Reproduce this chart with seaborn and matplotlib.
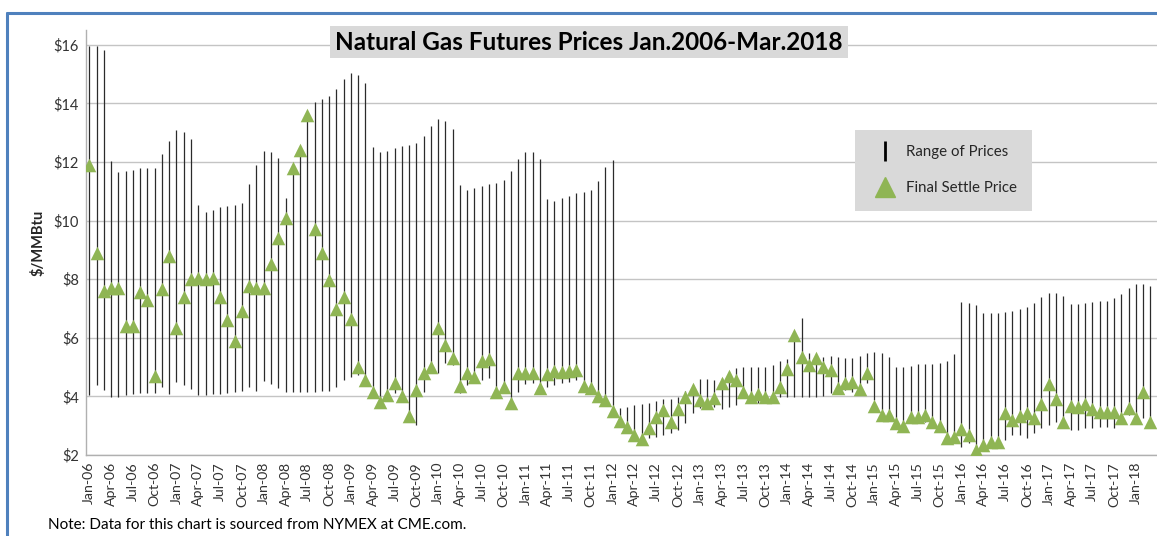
import numpy as np
import pandas as pd
import matplotlib
matplotlib.use('Agg')
import matplotlib.pyplot as plt
from matplotlib.lines import Line2D
import seaborn as sns

# Meses Jan-2006 .. Mar-2018
meses = pd.date_range('2006-01-01', '2018-03-01', freq='MS')

# Precio final de liquidacion (triangulos)
settle = [11.9, 8.9, 7.6, 7.7, 7.7, 6.4, 6.4, 7.55, 7.3, 4.7, 7.65, 8.8,
          6.35, 7.4, 8.0, 8.05, 8.0, 8.05, 7.4, 6.6, 5.9, 6.9, 7.75, 7.7,
          7.7, 8.5, 9.4, 10.1, 11.8, 12.4, 13.6, 9.7, 8.88, 7.97, 6.97, 7.4,
          6.63, 4.99, 4.56, 4.14, 3.82, 4.05, 4.45, 4.01, 3.34, 4.22, 4.79, 4.99,
          6.32, 5.75, 5.3, 4.35, 4.79, 4.67, 5.21, 5.27, 4.14, 4.33, 3.79, 4.79,
          4.79, 4.81, 4.28, 4.76, 4.88, 4.84, 4.88, 4.9, 4.35, 4.28, 4.01, 3.88,
          3.51, 3.17, 2.94, 2.68, 2.53, 2.93, 3.31, 3.54, 3.14, 3.56, 3.99, 4.24,
          3.88, 3.76, 3.96, 4.47, 4.7, 4.56, 4.16, 3.99, 4.07, 3.99, 3.99, 4.33,
          4.92, 6.1, 5.36, 5.07, 5.3, 5.01, 4.9, 4.3, 4.47, 4.5, 4.24, 4.79,
          3.67, 3.37, 3.37, 3.08, 2.99, 3.28, 3.28, 3.37, 3.14, 2.99, 2.57, 2.63,
          2.9, 2.68, 2.17, 2.34, 2.43, 2.43, 3.42, 3.19, 3.33, 3.44, 3.27, 3.74,
          4.41, 3.9, 3.14, 3.67, 3.65, 3.74, 3.57, 3.48, 3.48, 3.48, 3.25, 3.59,
          3.27, 4.16, 3.14]

# Rango de precios (maximo / minimo)
high = [15.94, 15.96, 15.82, 12.03, 11.67, 11.7, 11.73, 11.78, 11.78, 11.78, 12.27, 12.72,
        13.09, 13.01, 12.78, 10.53, 10.3, 10.36, 10.45, 10.5, 10.53, 10.59, 11.25, 11.9,
        12.38, 12.35, 12.12, 10.76, 11.9, 12.5, 13.7, 14.06, 14.15, 14.25, 14.49, 14.83,
        15.03, 14.97, 14.68, 12.52, 12.33, 12.37, 12.47, 12.55, 12.58, 12.64, 12.89, 13.24,
        13.46, 13.41, 13.13, 11.22, 11.04, 11.1, 11.19, 11.25, 11.29, 11.39, 11.69, 12.1,
        12.33, 12.33, 12.09, 10.73, 10.65, 10.76, 10.85, 10.93, 10.96, 11.04, 11.36, 11.81,
        12.05, 3.62, 3.65, 3.71, 3.73, 3.79, 3.84, 3.9, 3.9, 3.99, 4.2, 4.39,
        4.58, 4.58, 4.56, 4.62, 4.84, 4.96, 4.99, 5.01, 5.01, 5.01, 5.07, 5.21,
        5.28, 6.15, 6.66, 5.49, 5.41, 5.33, 5.38, 5.36, 5.32, 5.32, 5.38, 5.47,
        5.53, 5.47, 5.36, 4.99, 4.99, 5.04, 5.1, 5.11, 5.11, 5.13, 5.22, 5.45,
        7.23, 7.2, 7.12, 6.84, 6.84, 6.86, 6.89, 6.93, 6.97, 7.04, 7.18, 7.4,
        7.54, 7.54, 7.44, 7.14, 7.15, 7.2, 7.23, 7.26, 7.27, 7.35, 7.48, 7.71,
        7.84, 7.84, 7.77]

low = [4.05, 4.39, 4.22, 3.99, 3.99, 4.05, 4.08, 4.1, 4.1, 4.13, 4.31, 4.08,
       4.5, 4.39, 4.24, 4.05, 4.05, 4.08, 4.08, 4.13, 4.16, 4.18, 4.33, 4.18,
       4.54, 4.42, 4.28, 4.16, 4.16, 4.16, 4.16, 4.16, 4.18, 4.2, 4.33, 4.56,
       4.67, 4.73, 4.45, 4.0, 3.65, 3.93, 4.1, 3.82, 3.19, 3.02, 4.16, 4.79,
       4.79, 5.13, 5.07, 4.1, 4.39, 4.5, 4.56, 4.62, 4.16, 4.22, 3.82, 4.16,
       4.42, 4.45, 4.16, 4.33, 4.39, 4.45, 4.5, 4.56, 4.4, 4.1, 3.88, 3.7,
       3.37, 3.02, 2.8, 2.57, 2.4, 2.57, 2.63, 2.68, 2.74, 2.85, 3.08, 3.44,
       3.59, 3.65, 3.65, 3.56, 3.65, 3.71, 3.93, 3.99, 3.76, 3.79, 3.88, 3.99,
       3.99, 3.99, 3.99, 3.99, 3.99, 4.0, 4.1, 4.16, 4.22, 4.16, 4.22, 4.45,
       3.88, 3.54, 3.37, 3.08, 2.91, 3.14, 3.14, 3.14, 3.02, 2.91, 2.57, 2.57,
       2.28, 2.4, 2.06, 2.34, 2.4, 2.28, 2.51, 2.68, 2.68, 2.57, 2.74, 2.91,
       3.02, 3.14, 3.25, 2.85, 2.85, 2.91, 2.91, 2.97, 2.97, 2.91, 3.08, 3.37,
       3.25, 3.25, 3.14]

etiquetas_mes = [m.strftime('%b-%y') for m in meses]

df = pd.DataFrame({'pos': np.arange(len(meses)), 'mes': etiquetas_mes,
                   'settle': settle, 'high': high, 'low': low})

verde = '#8fb554'

sns.set_style('white')
plt.rcParams['font.family'] = ['Lato', 'DejaVu Sans']

fig = plt.figure(figsize=(11.57, 5.36), dpi=100)
ax = fig.add_axes([86 / 1157, 81 / 536, 1 - 86 / 1157, (455 - 30) / 536])

# lineas de rango
ax.vlines(df['pos'], df['low'], df['high'], color='#2b2b2b', linewidth=0.9, zorder=2)
# triangulos
sns.scatterplot(data=df, x='pos', y='settle', marker='^', s=95, color=verde,
                edgecolor=verde, linewidth=0, ax=ax, zorder=3, legend=False)

ax.set_xlim(-0.45, len(meses) - 0.1)
ax.set_ylim(2, 16.5)
ax.set_yticks(range(2, 17, 2))
ax.set_yticklabels(['$%d' % v for v in range(2, 17, 2)], fontsize=10.5, color='#333333')
ax.set_xticks(df['pos'][::3])
ax.set_xticklabels(df['mes'][::3], rotation=90, fontsize=10.2, color='#333333')
ax.tick_params(axis='both', length=0, pad=5)
ax.grid(axis='y', color='#c4c4c4', linewidth=1.0)
ax.set_axisbelow(True)
for s in ['top', 'right']:
    ax.spines[s].set_visible(False)
for s in ['left', 'bottom']:
    ax.spines[s].set_color('#b0b0b0')
    ax.spines[s].set_linewidth(1.0)
ax.set_xlabel('')
ax.set_ylabel('$/MMBtu', fontsize=10.5, fontweight='bold', labelpad=6)

# titulo en caja gris
fig.text(589 / 1157, 1 - 42 / 536, 'Natural Gas Futures Prices Jan.2006-Mar.2018',
         ha='center', va='center', fontsize=17.5, fontweight='bold', color='black',
         bbox=dict(boxstyle='square,pad=0.2', facecolor='#d9d9d9', edgecolor='none'))

# leyenda
handles = [Line2D([], [], color='black', marker='|', linestyle='none', markersize=14, markeredgewidth=2),
           Line2D([], [], color=verde, marker='^', linestyle='none', markersize=15)]
leg = fig.legend(handles, ['Range of Prices', 'Final Settle Price'], loc='upper left',
                 bbox_to_anchor=(855 / 1157, 1 - 130 / 536), fontsize=10.8, frameon=True,
                 fancybox=False, facecolor='#d9d9d9', edgecolor='none', framealpha=1,
                 labelspacing=1.5, borderpad=1.0, handletextpad=0.4, borderaxespad=0)
leg.get_frame().set_boxstyle('square', pad=0)

# nota al pie
fig.text(48 / 1157, 1 - 525 / 536, 'Note: Data for this chart is sourced from NYMEX at CME.com.',
         fontsize=11, color='black', va='center')

# marco azul (solo se ven borde izquierdo y superior)
fig.add_artist(Line2D([7 / 1157, 7 / 1157], [0, 1 - 13 / 536], transform=fig.transFigure,
                      color='#4f81bd', linewidth=2.2))
fig.add_artist(Line2D([7 / 1157, 1], [1 - 13 / 536, 1 - 13 / 536], transform=fig.transFigure,
                      color='#4f81bd', linewidth=2.2))

fig.savefig('out.png', dpi=100)
